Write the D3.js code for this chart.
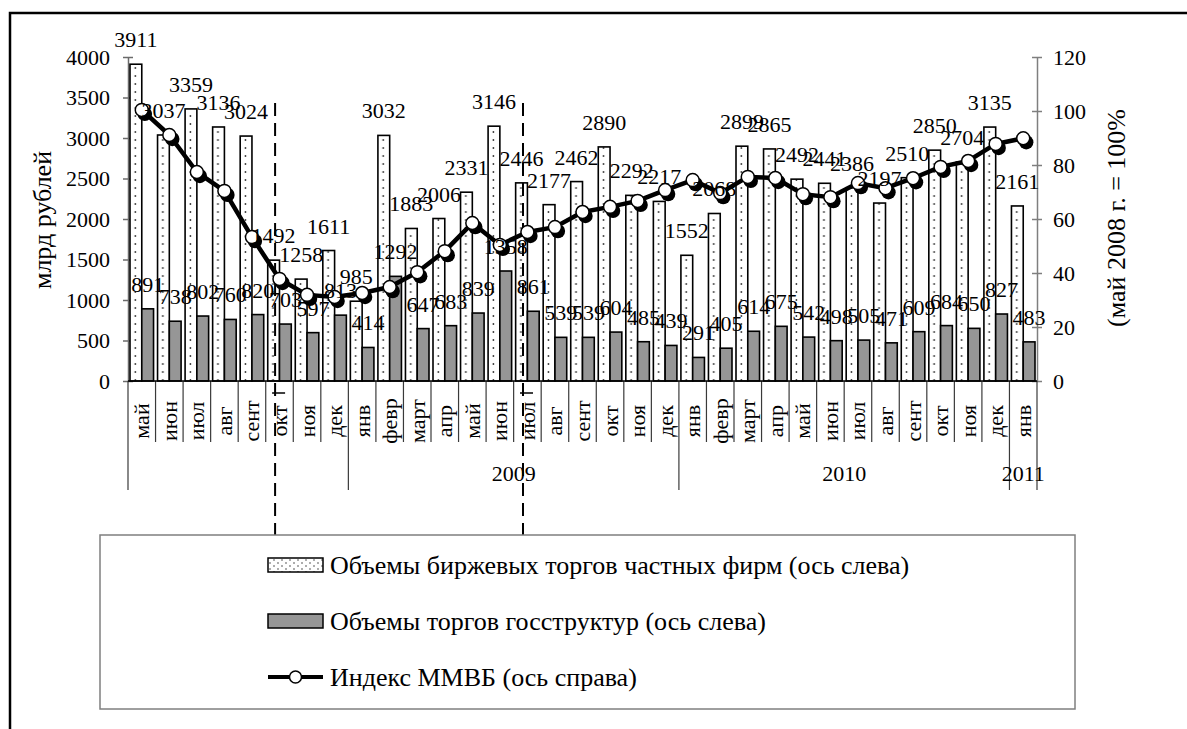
<!DOCTYPE html>
<html><head><meta charset="utf-8">
<script src="https://cdn.jsdelivr.net/npm/d3@7"></script>
<style>
body{margin:0;background:#fff}
svg{display:block}
svg text{font-family:"Liberation Serif","Times New Roman",Times,"DejaVu Serif",serif !important;fill:#000}
</style>
</head><body>
<svg id="c" width="1187" height="729"></svg>
<script>
// ---------- DATA ----------
const months = ["май","июн","июл","авг","сент","окт","ноя","дек",
  "янв","февр","март","апр","май","июн","июл","авг","сент","окт","ноя","дек",
  "янв","февр","март","апр","май","июн","июл","авг","сент","окт","ноя","дек",
  "янв"];
const yearLabels = ["", "2009", "2010", "2011"];
const yearSpans = [8, 12, 12, 1];
const privateVol = [3911,3037,3359,3136,3024,1492,1258,1611,
  985,3032,1883,2006,2331,3146,2446,2177,2462,2890,2292,2217,
  1552,2068,2899,2865,2492,2441,2386,2197,2510,2850,2704,3135,
  2161];
const stateVol = [891,738,802,760,820,703,597,813,
  414,1292,647,683,839,1358,861,539,539,604,485,439,
  291,405,614,675,542,498,505,471,609,684,650,827,
  483];
const micexIndex = [100.4,91.1,77.4,70.4,53.3,37.8,31.9,31.1,
  32.6,34.8,40.3,48.1,58.5,50.4,55.2,57.0,62.6,64.5,66.7,70.7,
  74.4,69.6,75.6,75.2,69.2,68.1,73.3,71.4,75.1,79.3,81.5,87.8,
  89.9];
const leftTicks = [0,500,1000,1500,2000,2500,3000,3500,4000];
const rightTicks = [0,20,40,60,80,100,120];
const leftTitle = "млрд рублей";
const rightTitle = "(май 2008 г. = 100%";
const seriesNames = ["Объемы биржевых торгов частных фирм (ось слева)",
  "Объемы торгов госструктур (ось слева)",
  "Индекс ММВБ (ось справа)"];
const markerMonths = [5, 14]; // dashed markers: окт 2008, июл 2009

// ---------- LAYOUT ----------
const FONT = '"Liberation Serif","Times New Roman",Times,"DejaVu Serif",serif';
const svg = d3.select("#c").attr("font-family", FONT);
const M = {left:128, right:1037, top:57, bottom:381};
const n = months.length;
const x = d3.scaleBand().domain(d3.range(n)).range([M.left, M.right]).padding(0);
const step = x.step();
const xi = d3.scaleBand().domain(["p","s"]).range([0, step]).paddingInner(0).paddingOuter(0.17);
const bw = xi.bandwidth();
const yL = d3.scaleLinear().domain([0,4000]).range([M.bottom, M.top]);
const yR = d3.scaleLinear().domain([0,120]).range([M.bottom, M.top]);
const FS = 22;

const defs = svg.append("defs");
const pat = defs.append("pattern").attr("id","dots").attr("patternUnits","userSpaceOnUse")
  .attr("x", M.left).attr("y", 0).attr("width", step).attr("height", 8);
pat.append("rect").attr("width", step).attr("height", 8).attr("fill","#fff");
pat.append("circle").attr("cx", xi("p") + bw*0.45).attr("cy", 4).attr("r", 0.9).attr("fill","#333");
const pat2 = defs.append("pattern").attr("id","dots2").attr("patternUnits","userSpaceOnUse")
  .attr("x", 0).attr("y", 0).attr("width", 8).attr("height", 6);
pat2.append("rect").attr("width", 8).attr("height", 6).attr("fill","#fff");
pat2.append("circle").attr("cx", 2).attr("cy", 2).attr("r", 0.8).attr("fill","#444");
pat2.append("circle").attr("cx", 6).attr("cy", 5).attr("r", 0.8).attr("fill","#444");

// outer frame (top and left)
svg.append("path").attr("d","M10,729V13H1187").attr("fill","none").attr("stroke","#000").attr("stroke-width",2.5);

// ---------- AXES ----------
const gl = svg.append("g").attr("transform",`translate(${M.left},0)`)
  .call(d3.axisLeft(yL).tickValues(leftTicks).tickFormat(d3.format("d"))
    .tickSizeInner(5).tickSizeOuter(0).tickPadding(13));
gl.attr("font-family", FONT);
gl.selectAll(".tick line").attr("x1",5);
gl.select(".domain").attr("stroke","#6b6b6b").attr("stroke-width",1.5);
gl.selectAll(".tick line").attr("stroke","#6b6b6b").attr("stroke-width",1.5);
gl.selectAll("text").attr("font-size",FS);

const gr = svg.append("g").attr("transform",`translate(${M.right},0)`)
  .call(d3.axisRight(yR).tickValues(rightTicks).tickFormat(d3.format("d"))
    .tickSizeInner(5).tickSizeOuter(0).tickPadding(11));
gr.attr("font-family", FONT);
gr.selectAll(".tick line").attr("x1",-5);
gr.select(".domain").attr("stroke","#7f7f7f").attr("stroke-width",1.5);
gr.selectAll(".tick line").attr("stroke","#7f7f7f").attr("stroke-width",1.5);
gr.selectAll("text").attr("font-size",FS);

// axis titles
svg.append("text").attr("transform",`translate(42,${(M.top+M.bottom)/2+1}) rotate(-90)`)
  .attr("text-anchor","middle").attr("dominant-baseline","central").attr("font-size",26).text(leftTitle);
svg.append("text").attr("transform",`translate(1116,${(M.top+M.bottom)/2-1}) rotate(-90)`)
  .attr("text-anchor","middle").attr("dominant-baseline","central").attr("font-size",26).text(rightTitle);

// category axis (two levels)
const bounds = [0];
yearSpans.forEach(s => bounds.push(bounds[bounds.length-1] + s));
const xb = i => M.left + i*step;
const gx = svg.append("g");
d3.range(n+1).forEach(i => {
  const isGroup = bounds.includes(i);
  gx.append("line").attr("x1",xb(i)).attr("x2",xb(i)).attr("y1",M.bottom).attr("y2", isGroup ? 490 : 442)
    .attr("stroke","#3a3a3a").attr("stroke-width",1.2);
});
gx.selectAll("text.m").data(months).join("text").attr("class","m")
  .attr("transform",(d,i)=>`translate(${x(i)+step/2},421) rotate(-90)`)
  .attr("text-anchor","middle").attr("dominant-baseline","central").attr("font-size",FS).text(d=>d);
yearLabels.forEach((lab,k) => {
  if (!lab) return;
  gx.append("text").attr("x",(xb(bounds[k])+xb(bounds[k+1]))/2).attr("y",481)
    .attr("text-anchor","middle").attr("font-size",FS).text(lab);
});

// ---------- BARS ----------
const gb = svg.append("g");
gb.selectAll("rect.p").data(privateVol).join("rect").attr("class","p")
  .attr("x",(d,i)=>x(i)+xi("p")).attr("width",bw)
  .attr("y",d=>yL(d)).attr("height",d=>M.bottom-yL(d))
  .attr("fill","url(#dots)").attr("stroke","#000").attr("stroke-width",1.6);
gb.selectAll("rect.s").data(stateVol).join("rect").attr("class","s")
  .attr("x",(d,i)=>x(i)+xi("s")).attr("width",bw)
  .attr("y",d=>yL(d)).attr("height",d=>M.bottom-yL(d))
  .attr("fill","#969696").attr("stroke","#000").attr("stroke-width",1.6);
svg.append("line").attr("x1",M.left).attr("x2",M.right).attr("y1",M.bottom).attr("y2",M.bottom)
  .attr("stroke","#000").attr("stroke-width",1.5);

// ---------- DASHED MARKERS ----------
markerMonths.forEach(i => {
  const mx = x(i) + step*0.34;
  svg.append("line").attr("x1",mx).attr("x2",mx).attr("y1",103).attr("y2",535)
    .attr("stroke","#000").attr("stroke-width",2).attr("stroke-dasharray","13,7");
  svg.append("line").attr("x1",mx-3).attr("x2",mx+10).attr("y1",393).attr("y2",393)
    .attr("stroke","#000").attr("stroke-width",1.5);
});

// ---------- LINE ----------
const cx = i => x(i) + step/2;
const line = d3.line().x((d,i)=>cx(i)).y(d=>yR(d));
svg.append("path").datum(micexIndex).attr("d",line).attr("fill","none")
  .attr("stroke","#000").attr("stroke-width",4.5).attr("stroke-linejoin","round");
svg.selectAll("circle.sh").data(micexIndex).join("circle").attr("class","sh")
  .attr("cx",(d,i)=>cx(i)+3).attr("cy",d=>yR(d)+4).attr("r",7.2).attr("fill","#000");
svg.selectAll("circle.mk").data(micexIndex).join("circle").attr("class","mk")
  .attr("cx",(d,i)=>cx(i)).attr("cy",d=>yR(d)).attr("r",6.5)
  .attr("fill","#fff").attr("stroke","#000").attr("stroke-width",1.5);

// ---------- DATA LABELS ----------
const gt = svg.append("g").attr("font-size",FS).attr("text-anchor","middle");
gt.selectAll("text.lp").data(privateVol).join("text").attr("class","lp")
  .attr("x",(d,i)=>x(i)+xi("p")+bw/2).attr("y",d=>yL(d)-17).text(d=>d);
gt.selectAll("text.ls").data(stateVol).join("text").attr("class","ls")
  .attr("x",(d,i)=>x(i)+xi("s")+bw/2).attr("y",d=>yL(d)-17).text(d=>d);

// ---------- LEGEND ----------
const lg = svg.append("g");
lg.append("rect").attr("x",100).attr("y",535).attr("width",975).attr("height",174)
  .attr("fill","#fff").attr("stroke","#7f7f7f").attr("stroke-width",1.5);
const rowsY = [565, 621, 677];
lg.append("rect").attr("x",268).attr("y",rowsY[0]-7).attr("width",55).attr("height",14)
  .attr("fill","url(#dots2)").attr("stroke","#000").attr("stroke-width",1.5);
lg.append("rect").attr("x",268).attr("y",rowsY[1]-7).attr("width",55).attr("height",14)
  .attr("fill","#969696").attr("stroke","#000").attr("stroke-width",1.5);
lg.append("line").attr("x1",268).attr("x2",323).attr("y1",rowsY[2]).attr("y2",rowsY[2])
  .attr("stroke","#000").attr("stroke-width",4);
lg.append("circle").attr("cx",295.5).attr("cy",rowsY[2]).attr("r",6)
  .attr("fill","#fff").attr("stroke","#000").attr("stroke-width",1.5);
lg.selectAll("text.lg").data(seriesNames).join("text").attr("class","lg")
  .attr("x",330).attr("y",(d,i)=>rowsY[i]).attr("dominant-baseline","central")
  .attr("font-size",26).text(d=>d);
</script>
</body></html>
